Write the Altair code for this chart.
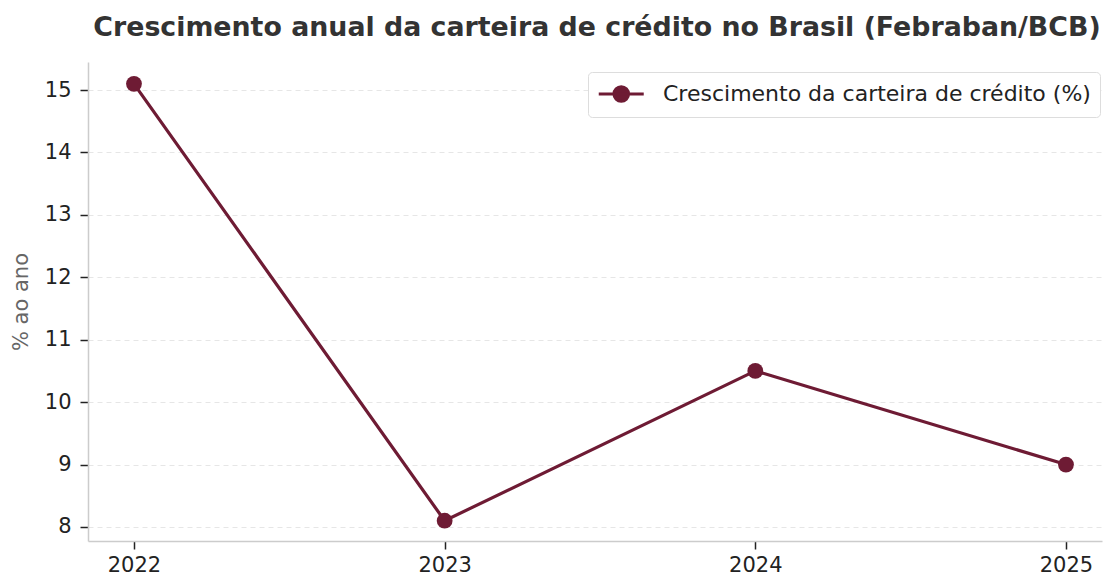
import altair as alt
import pandas as pd

years = [2022, 2023, 2024, 2025]
growth = [15.1, 8.1, 10.5, 9.0]
series_name = "Crescimento da carteira de crédito (%)"
y_ticks = [8, 9, 10, 11, 12, 13, 14, 15]

df = pd.DataFrame({"ano": years, "valor": growth, "serie": [series_name] * len(years)})

COLOR = "#6e1b34"
FONT = "DejaVu Sans"

sym_path = "M-1,0L3,0M0.35,0A0.65,0.65,0,1,1,1.65,0A0.65,0.65,0,1,1,0.35,0Z"

x = alt.X("ano:Q", scale=alt.Scale(domain=[2021.852, 2025.116], nice=False, zero=False),
          axis=alt.Axis(values=years, format="d", title=None, grid=False,
                        domainColor="#cccccc", domainWidth=1.5,
                        tickColor="#222222", tickSize=8, tickWidth=1.5,
                        labelFont=FONT, labelFontSize=21, labelColor="#222222",
                        labelPadding=5))
y = alt.Y("valor:Q", scale=alt.Scale(domain=[7.775, 15.45], nice=False, zero=False),
          axis=alt.Axis(values=y_ticks, title="% ao ano", grid=True,
                        gridColor="#e6e6e6", gridDash=[5, 4], gridWidth=1,
                        domainColor="#cccccc", domainWidth=1.5,
                        tickColor="#222222", tickSize=8, tickWidth=1.5,
                        labelFont=FONT, labelFontSize=21, labelColor="#222222",
                        labelPadding=9,
                        titleFont=FONT, titleFontSize=21, titleFontWeight="normal",
                        titleColor="#666666", titlePadding=13))

line = alt.Chart(df).mark_line(strokeWidth=3.2).encode(
    x=x, y=y,
    color=alt.Color("serie:N", scale=alt.Scale(range=[COLOR]),
                    legend=alt.Legend(title=None, orient="none", legendX=500, legendY=10,
                                      symbolType=sym_path, symbolSize=506,
                                      symbolStrokeWidth=3, symbolFillColor=COLOR,
                                      symbolStrokeColor=COLOR,
                                      labelFont=FONT, labelFontSize=22, labelColor="#222222",
                                      labelOffset=40, labelLimit=1000,
                                      fillColor="white", strokeColor="#dddddd",
                                      cornerRadius=4, padding=9))
)
points = alt.Chart(df).mark_point(filled=True, size=250, opacity=1, color=COLOR).encode(x=x, y=y)

chart = (line + points).properties(
    width=1014, height=479,
    title=alt.Title("Crescimento anual da carteira de crédito no Brasil (Febraban/BCB)",
                    font=FONT, fontSize=26.8, fontWeight="bold", color="#333333",
                    anchor="middle", offset=20, dx=2),
    autosize=alt.AutoSizeParams(type="none"),
    padding={"left": 80, "top": 54, "right": 2, "bottom": 40},
).configure_view(stroke=None)

chart.save("out.html", embed_options={"renderer": "svg", "actions": False})
